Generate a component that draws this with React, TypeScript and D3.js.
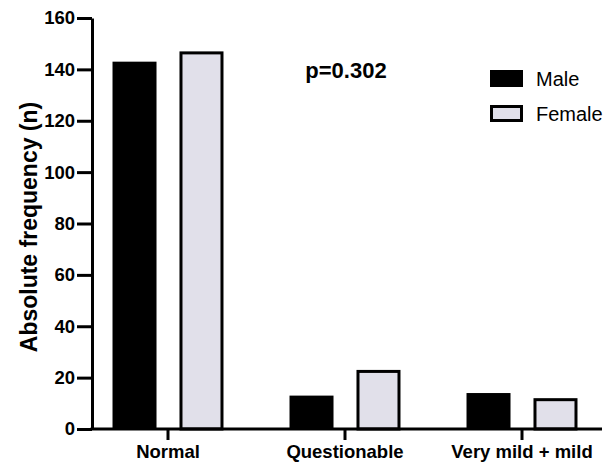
import { useEffect, useRef } from "react";
import * as d3 from "d3";

const categories = ["Normal", "Questionable", "Very mild + mild"];
const groups = ["Male", "Female"];
const male = [143, 13, 14];
const female = [147, 23, 12];
const yTicks = [0, 20, 40, 60, 80, 100, 120, 140, 160];

export default function App() {
  const ref = useRef<SVGSVGElement | null>(null);

  useEffect(() => {
    const svg = d3.select(ref.current);
    svg.selectAll("*").remove();

    const font = "'Liberation Sans', Arial, Helvetica, sans-serif";
    const x0 = d3.scaleBand().domain(categories).range([79.5, 610.5]).paddingInner(0.373).paddingOuter(0.1865);
    const x1 = d3.scaleBand().domain(groups).range([0, x0.bandwidth()]).paddingInner(0.343);
    const y = d3.scaleLinear().domain([0, 160]).range([429, 18]);

    const rows = categories.map((c, i) => ({ cat: c, vals: [male[i], female[i]] }));

    const g = svg.append("g");
    const grp = g.selectAll("g.cat").data(rows).enter().append("g")
      .attr("transform", d => `translate(${x0(d.cat)},0)`);

    grp.selectAll("rect")
      .data(d => d.vals.map((v, k) => ({ key: groups[k], v })))
      .enter()
      .append("rect")
      .attr("x", d => (x1(d.key) as number) + (d.key === "Female" ? 1.5 : 0))
      .attr("width", d => x1.bandwidth() - (d.key === "Female" ? 3 : 0))
      .attr("y", d => y(d.v) + (d.key === "Female" ? 1.5 : 0))
      .attr("height", d => 429 - y(d.v) - (d.key === "Female" ? 1.5 : 0))
      .attr("fill", d => (d.key === "Male" ? "#000" : "#e1e0ea"))
      .attr("stroke", d => (d.key === "Female" ? "#000" : "none"))
      .attr("stroke-width", 3);

    // y axis
    const ya = g.append("g").attr("transform", "translate(92,0)")
      .call(d3.axisLeft(y).tickValues(yTicks).tickSize(15).tickPadding(2).tickSizeOuter(0));
    ya.select(".domain").attr("stroke-width", 3);
    ya.selectAll(".tick line").attr("stroke-width", 3);
    ya.selectAll(".tick text").attr("font-family", font).attr("font-size", 18.5).attr("font-weight", "bold").attr("fill", "#000");

    // x axis
    g.append("line").attr("x1", 90.5).attr("x2", 602).attr("y1", 429).attr("y2", 429)
      .attr("stroke", "#000").attr("stroke-width", 3);
    categories.forEach(c => {
      const cx = (x0(c) as number) + x0.bandwidth() / 2;
      g.append("line").attr("x1", cx).attr("x2", cx).attr("y1", 429).attr("y2", 440)
        .attr("stroke", "#000").attr("stroke-width", 3);
      g.append("text").attr("x", cx).attr("y", 458).attr("text-anchor", "middle")
        .attr("font-family", font).attr("font-size", 18.5).attr("font-weight", "bold").text(c);
    });

    g.append("text")
      .attr("transform", "translate(37,227) rotate(-90)")
      .attr("text-anchor", "middle")
      .attr("font-family", font).attr("font-size", 23).attr("font-weight", "bold")
      .text("Absolute frequency (n)");

    g.append("text").attr("x", 346).attr("y", 78).attr("text-anchor", "middle")
      .attr("font-family", font).attr("font-size", 22).attr("font-weight", "bold").text("p=0.302");

    // legend
    groups.forEach((k, i) => {
      const ly = 70 + i * 35;
      g.append("rect").attr("x", k === "Female" ? 491.5 : 490).attr("y", k === "Female" ? ly + 1.5 : ly)
        .attr("width", k === "Female" ? 30 : 33).attr("height", k === "Female" ? 14 : 17)
        .attr("fill", k === "Male" ? "#000" : "#e1e0ea")
        .attr("stroke", k === "Female" ? "#000" : "none").attr("stroke-width", 3);
      g.append("text").attr("x", 536).attr("y", ly + 16)
        .attr("font-family", font).attr("font-size", 20).text(k);
    });
  }, []);

  return <svg ref={ref} width={614} height={463} style={{ position: "absolute", left: 0, top: 0 }} />;
}
